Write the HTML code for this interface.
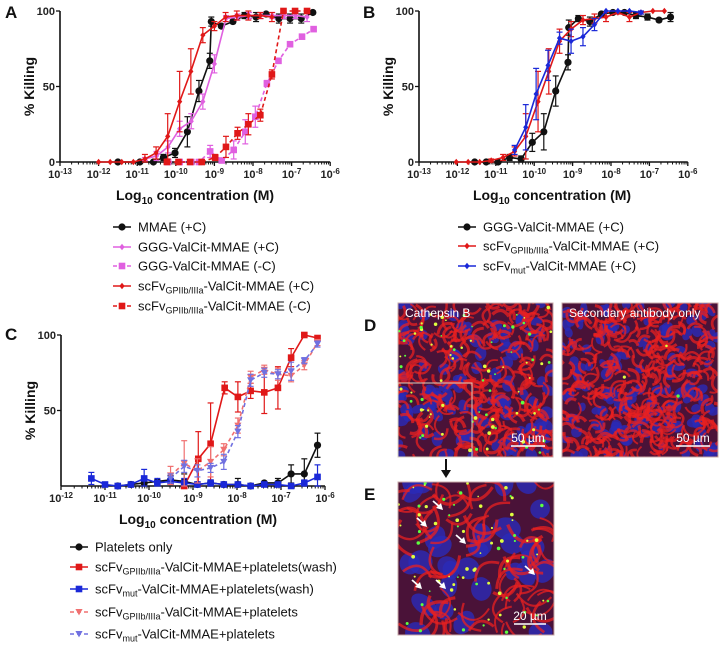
<!DOCTYPE html>
<html><head><meta charset="utf-8">
<style>
html,body{margin:0;padding:0;background:#fff;}
svg{display:block;font-family:"Liberation Sans",Arial,sans-serif;}
.tk{font-size:11px;font-weight:bold;fill:#222;}
.ax{font-size:14px;font-weight:bold;fill:#111;}
.lg{font-size:13px;fill:#111;}
.pl{font-size:17px;font-weight:bold;fill:#111;}
</style></head>
<body>
<svg id="fig" width="720" height="645" viewBox="0 0 720 645" xmlns="http://www.w3.org/2000/svg">
<defs>
<clipPath id="cD1"><rect x="398" y="303" width="155" height="154"/></clipPath>
<clipPath id="cD2"><rect x="562" y="303" width="156" height="154"/></clipPath>
<clipPath id="cE"><rect x="398" y="482" width="156" height="153"/></clipPath>
</defs>
<g id="gA"></g>
<g id="gB"></g>
<g id="gC"></g>
<g id="gM"></g>
<text class="pl" x="5" y="18">A</text>
<text class="pl" x="363" y="18">B</text>
<text class="pl" x="5" y="340">C</text>
<text class="pl" x="364" y="331">D</text>
<text class="pl" x="364" y="500">E</text>
</svg>
<script>
// ---------- Panel A data (log10 M, % killing, error) ----------
const aMmaeX=[-11.5,-10.93,-10.58,-10.32,-10.02,-9.7,-9.4,-9.12,-9.08,-8.82,-8.52,-8.22,-7.92,-7.66,-7.33,-7.04,-6.75,-6.45];
const aMmaeY=[0,0,0,3,6,20,47,67,93,90,93,97,96,98,95,95,95,99];
const aMmaeE=[0,0,0,2,3,10,7,5,3,1,1,2,3,1,3,3,3,1];
const aGggPX=[-10.8,-10.5,-10.2,-9.9,-9.6,-9.3,-9.0,-8.7,-8.4,-8.1,-7.8,-7.5,-7.2,-6.9,-6.6];
const aGggPY=[2,4,10,22,27,40,65,95,96,97,97,97,97,97,96];
const aGggPE=[1,3,4,5,5,5,6,2,2,2,2,2,2,2,3];
const aGggMX=[-10.2,-9.9,-9.6,-9.4,-9.11,-8.81,-8.5,-8.2,-7.94,-7.64,-7.34,-7.04,-6.73,-6.43];
const aGggMY=[0,0,0,0,7,1,8,20,30,52,67,78,83,88];
const aGggME=[0,0,0,0,4,1,6,8,7,2,1,1,1,1];
const aScPX=[-12.0,-11.7,-11.4,-11.1,-10.8,-10.51,-10.21,-9.9,-9.61,-9.3,-9.0,-8.71,-8.42,-8.12,-7.81,-7.51];
const aScPY=[0,0,0,0,2,6,17,40,60,84,90,96,97,97,97,96];
const aScPE=[0,0,0,0,3,4,15,20,15,5,3,3,3,3,2,3];
const aScMX=[-10.23,-9.93,-9.63,-9.33,-8.98,-8.7,-8.4,-8.12,-7.81,-7.51,-7.21,-6.91,-6.6];
const aScMY=[0,0,0,0,3,10,19,25,31,58,100,100,100];
const aScME=[0,0,0,0,2,7,4,7,4,3,0,0,0];
// ---------- Panel B data ----------
const bGggX=[-11.55,-11.25,-10.94,-10.64,-10.34,-10.05,-9.75,-9.44,-9.12,-9.1,-8.85,-8.55,-8.25,-7.95,-7.65,-7.35,-7.05,-6.75,-6.45];
const bGggY=[0,0,0,3,2,13,20,47,66,89,95,93,98,99,99,97,96,94,96];
const bGggE=[0,0,1,2,2,6,12,10,5,5,2,3,1,1,1,2,2,1,3];
const bScX=[-12.03,-11.72,-11.42,-11.12,-10.81,-10.51,-10.22,-9.9,-9.62,-9.34,-9.04,-8.73,-8.43,-8.13,-7.82,-7.52,-7.22,-6.91,-6.61];
const bScY=[0,0,0,1,3,7,17,40,60,80,88,94,95,96,99,96,99,100,100];
const bScE=[0,0,0,1,2,3,15,20,15,8,5,3,3,3,1,3,1,0,0];
const bMutX=[-10.51,-10.22,-9.95,-9.64,-9.34,-9.04,-8.73,-8.43,-8.13,-7.82,-7.52,-7.22];
const bMutY=[8,23,45,64,82,80,83,91,100,100,100,99];
const bMutE=[3,15,17,10,4,8,6,4,0,0,0,1];
// ---------- Panel C data ----------
const cPltX=[-10.71,-10.41,-10.11,-9.81,-9.51,-9.2,-8.9,-8.6,-8.3,-7.98,-7.69,-7.38,-7.07,-6.77,-6.47,-6.17];
const cPltY=[0,1,2,3,4,3,1,2,1,1,0,2,2,8,8,27];
const cPltE=[0,1,1,1,3,5,1,2,1,4,1,1,3,6,10,8];
const cRedWX=[-9.2,-8.88,-8.6,-8.28,-7.98,-7.69,-7.38,-7.07,-6.77,-6.47,-6.17];
const cRedWY=[0,18,28,65,59,63,62,65,85,100,98];
const cRedWE=[0,18,27,4,10,5,14,14,6,0,1];
const cBluWX=[-11.31,-11.0,-10.71,-10.41,-10.11,-9.81,-9.51,-9.2,-8.9,-8.6,-8.3,-7.98,-7.69,-7.38,-7.07,-6.77,-6.47,-6.17];
const cBluWY=[5,1,0,1,5,2,3,2,1,2,1,1,0,1,1,0,2,6];
const cBluWE=[4,1,0,1,6,3,2,3,1,2,1,1,0,1,1,0,2,8];
const cRedPX=[-9.51,-9.2,-8.9,-8.6,-8.3,-7.98,-7.69,-7.38,-7.07,-6.77,-6.47,-6.17];
const cRedPY=[7,15,10,16,24,40,72,77,74,73,80,95];
const cRedPE=[6,15,8,10,4,5,4,3,4,4,3,2];
const cBluPX=[-9.51,-9.2,-8.9,-8.6,-8.3,-7.98,-7.69,-7.38,-7.07,-6.77,-6.47,-6.17];
const cBluPY=[5,13,10,12,16,36,70,75,74,76,83,94];
const cBluPE=[3,4,4,3,5,4,4,3,3,6,2,2];
// tick labels
const abTicks=[-13,-12,-11,-10,-9,-8,-7,-6];
const cTicks=[-12,-11,-10,-9,-8,-7,-6];
const yTicksAB=[0,50,100];
const yTicksC=[50,100];

const NS="http://www.w3.org/2000/svg";
function mk(tag,at,par){const e=document.createElementNS(NS,tag);for(const k in at)e.setAttribute(k,at[k]);par.appendChild(e);return e;}

function marker(g,shape,cx,cy,color){
  let m;
  if(shape==='circle'){m=mk('circle',{cx:cx,cy:cy,r:3.6,fill:color},g);}
  else if(shape==='square'){m=mk('rect',{x:cx-3.3,y:cy-3.3,width:6.6,height:6.6,fill:color},g);}
  else if(shape==='diamond'){m=mk('path',{d:`M${cx} ${cy-3.2}L${cx+2.6} ${cy}L${cx} ${cy+3.2}L${cx-2.6} ${cy}Z`,fill:color},g);}
  else {m=mk('path',{d:`M${cx-3.6} ${cy-3}L${cx+3.6} ${cy-3}L${cx} ${cy+3.4}Z`,fill:color},g);}
  return m;
}

function panel(g,cfg){
  const sx=v=>cfg.x0+(v-cfg.lmin)*cfg.dec;
  const sy=v=>cfg.y0-(v/100)*(cfg.y0-cfg.y100);
  const xa=mk('line',{x1:cfg.x0,y1:cfg.y0,x2:sx(cfg.lmax),y2:cfg.y0,stroke:'#111','stroke-width':1.6},g);
  
  const ya=mk('line',{x1:cfg.x0,y1:cfg.y0,x2:cfg.x0,y2:cfg.y100,stroke:'#111','stroke-width':1.6},g);
  
  for(let d=cfg.lmin;d<=cfg.lmax;d++){
    mk('line',{x1:sx(d),y1:cfg.y0,x2:sx(d),y2:cfg.y0+4,stroke:'#111','stroke-width':1.3},g);
    if(d<cfg.lmax)for(let k=2;k<10;k++){const xx=sx(d+Math.log10(k));mk('line',{x1:xx,y1:cfg.y0,x2:xx,y2:cfg.y0+2.5,stroke:'#111','stroke-width':1},g);}
  }
  cfg.xt.forEach(d=>{
    const t=mk('text',{x:sx(d),y:cfg.y0+16,'text-anchor':'middle',class:'tk'},g);
    
    t.appendChild(document.createTextNode('10'));
    const s=mk('tspan',{dy:-4,'font-size':8},t);s.textContent=String(d);
  });
  cfg.yt.forEach(v=>{
    mk('line',{x1:cfg.x0-4,y1:sy(v),x2:cfg.x0,y2:sy(v),stroke:'#111','stroke-width':1.3},g);
    const t=mk('text',{x:cfg.x0-5,y:sy(v)+4,'text-anchor':'end',class:'tk'},g);
    
    t.textContent=v;
  });
  const yl=mk('text',{x:0,y:0,transform:`translate(${cfg.x0-26},${(cfg.y0+cfg.y100)/2}) rotate(-90)`,'text-anchor':'middle',class:'ax','font-size':15},g);
  
  yl.textContent='% Killing';
  const xl=mk('text',{x:cfg.xlx,y:cfg.y0+38,'text-anchor':'middle',class:'ax'},g);
  
  xl.appendChild(document.createTextNode('Log'));
  const sb=mk('tspan',{dy:4,'font-size':10},xl);sb.textContent='10';
  const rest=mk('tspan',{dy:-4},xl);rest.textContent=' concentration (M)';
  cfg.series.forEach(s=>{
    const sg=mk('g',{},g);
    
    const pts=s.x.map((v,i)=>sx(v)+','+sy(s.y[i])).join(' ');
    const pl=mk('polyline',{points:pts,fill:'none',stroke:s.c,'stroke-width':1.6,'stroke-dasharray':s.dash?'4,3':'none'},sg);
    
    s.x.forEach((v,i)=>{
      const e=s.e[i];
      if(e>0){
        const X=sx(v),Y1=sy(Math.min(100,s.y[i]+e)),Y2=sy(Math.max(0,s.y[i]-e));
        mk('line',{x1:X,y1:Y1,x2:X,y2:Y2,stroke:s.c,'stroke-width':1.2},sg);
        mk('line',{x1:X-3,y1:Y1,x2:X+3,y2:Y1,stroke:s.c,'stroke-width':1.2},sg);
        mk('line',{x1:X-3,y1:Y2,x2:X+3,y2:Y2,stroke:s.c,'stroke-width':1.2},sg);
      }
      const m=marker(sg,s.m,sx(v),sy(s.y[i]),s.c);
      
    });
  });
  cfg.series.forEach((s,i)=>{
    const li=s.leg;const y=cfg.lgY[i];
    const lg=mk('g',{},g);
    
    mk('line',{x1:cfg.lgX,y1:y,x2:cfg.lgX+18,y2:y,stroke:s.c,'stroke-width':1.6,'stroke-dasharray':s.dash?'4,3':'none'},lg);
    marker(lg,s.m,cfg.lgX+9,y,s.c);
    const t=mk('text',{x:cfg.lgX+25,y:y+4.5,class:'lg'},lg);
    t.appendChild(document.createTextNode(li[0]));
    if(li.length>1){const a=mk('tspan',{dy:3,'font-size':9},t);a.textContent=li[1];
      const b=mk('tspan',{dy:-3},t);b.textContent=li[2];}
  });
}

panel(document.getElementById('gA'),{x0:60,y0:162,y100:11,lmin:-13,lmax:-6,dec:38.6,xt:abTicks,yt:yTicksAB,xlx:195,
  lgX:113,lgY:[227,247,266,286,306],
  series:[
   {name:'series-mmae-plus-c',x:aMmaeX,y:aMmaeY,e:aMmaeE,c:'#111',m:'circle',leg:['MMAE (+C)']},
   {name:'series-ggg-plus-c',x:aGggPX,y:aGggPY,e:aGggPE,c:'#e060e0',m:'diamond',leg:['GGG-ValCit-MMAE (+C)']},
   {name:'series-ggg-minus-c',x:aGggMX,y:aGggMY,e:aGggME,c:'#e060e0',m:'square',dash:1,leg:['GGG-ValCit-MMAE (-C)']},
   {name:'series-scfv-plus-c',x:aScPX,y:aScPY,e:aScPE,c:'#e01818',m:'diamond',leg:['scFv','GPIIb/IIIa','-ValCit-MMAE (+C)']},
   {name:'series-scfv-minus-c',x:aScMX,y:aScMY,e:aScME,c:'#e01818',m:'square',dash:1,leg:['scFv','GPIIb/IIIa','-ValCit-MMAE (-C)']}
  ]});
panel(document.getElementById('gB'),{x0:419,y0:162,y100:11,lmin:-13,lmax:-6,dec:38.4,xt:abTicks,yt:yTicksAB,xlx:552,
  lgX:458,lgY:[227,246,266],
  series:[
   {name:'series-ggg-plus-c',x:bGggX,y:bGggY,e:bGggE,c:'#111',m:'circle',leg:['GGG-ValCit-MMAE (+C)']},
   {name:'series-scfv-gpiib-plus-c',x:bScX,y:bScY,e:bScE,c:'#e01818',m:'diamond',leg:['scFv','GPIIb/IIIa','-ValCit-MMAE (+C)']},
   {name:'series-scfv-mut-plus-c',x:bMutX,y:bMutY,e:bMutE,c:'#1a28d8',m:'diamond',leg:['scFv','mut','-ValCit-MMAE (+C)']}
  ]});
panel(document.getElementById('gC'),{x0:61,y0:486,y100:335,lmin:-12,lmax:-6,dec:44,xt:cTicks,yt:yTicksC,xlx:198,
  lgX:70,lgY:[547,567,589,612,634],
  series:[
   {name:'series-platelets-only',x:cPltX,y:cPltY,e:cPltE,c:'#111',m:'circle',leg:['Platelets only']},
   {name:'series-scfv-gpiib-wash',x:cRedWX,y:cRedWY,e:cRedWE,c:'#e01818',m:'square',leg:['scFv','GPIIb/IIIa','-ValCit-MMAE+platelets(wash)']},
   {name:'series-scfv-mut-wash',x:cBluWX,y:cBluWY,e:cBluWE,c:'#1a28d8',m:'square',leg:['scFv','mut','-ValCit-MMAE+platelets(wash)']},
   {name:'series-scfv-gpiib-platelets',x:cRedPX,y:cRedPY,e:cRedPE,c:'#f07070',m:'tri',dash:1,leg:['scFv','GPIIb/IIIa','-ValCit-MMAE+platelets']},
   {name:'series-scfv-mut-platelets',x:cBluPX,y:cBluPY,e:cBluPE,c:'#7070e0',m:'tri',dash:1,leg:['scFv','mut','-ValCit-MMAE+platelets']}
  ]});

// ---------- Microscopy textures (decorative) ----------
let seed=7;function rnd(){seed=(seed*16807)%2147483647;return seed/2147483647;}
const gM=document.getElementById('gM');
function micro(name,x,y,w,h,clip,cell,green,label,scale){
  const g=mk('g',{'clip-path':'url(#'+clip+')'},gM);
  
  mk('rect',{x:x,y:y,width:w,height:h,fill:'#4a1238'},g);
  const n=Math.round(w*h/(cell*cell));
  for(let i=0;i<n*1.1;i++){
    const cx=x+rnd()*w,cy=y+rnd()*h;
    mk('ellipse',{cx:cx,cy:cy,rx:cell*(0.3+rnd()*0.2),ry:cell*(0.25+rnd()*0.15),fill:'#2a2ab8','fill-opacity':0.8,transform:`rotate(${rnd()*180} ${cx} ${cy})`},g);
  }
  for(let i=0;i<n*3;i++){
    const cx=x+rnd()*w,cy=y+rnd()*h,r=cell*(0.35+rnd()*0.3);
    mk('path',{d:`M${cx-r} ${cy}Q${cx} ${cy-r*1.2} ${cx+r} ${cy}`,fill:'none',stroke:'#e82020','stroke-width':1.8+rnd()*1.6,'stroke-opacity':0.75,transform:`rotate(${rnd()*360} ${cx} ${cy})`},g);
  }
  for(let i=0;i<green;i++){
    mk('circle',{cx:x+rnd()*w,cy:y+rnd()*h,r:0.8+rnd()*1.1,fill:rnd()>0.5?'#5cff40':'#e0ff40'},g);
  }
  mk('rect',{x:x,y:y,width:w,height:h,fill:'none',stroke:'#c8a8a8','stroke-width':1},gM);
  if(label){const t=mk('text',{x:x+7,y:y+14,'font-size':12,fill:'#fff'},gM);
    t.textContent=label;}
  const sbw=scale[0];
  mk('line',{x1:x+w-8-sbw,y1:y+h-11,x2:x+w-8,y2:y+h-11,stroke:'#fff','stroke-width':1.5},gM);
  const st=mk('text',{x:x+w-8-sbw/2,y:y+h-15,'font-size':12,fill:'#fff','text-anchor':'middle'},gM);
  st.textContent=scale[1];
}
micro('cathepsin-b-image',398,303,155,154,'cD1',16,80,'Cathepsin B',[34,'50 µm']);
const inset=mk('rect',{x:398,y:383,width:74,height:74,fill:'none',stroke:'#d8d0c0','stroke-width':1},gM);

micro('secondary-antibody-image',562,303,156,154,'cD2',14,3,'Secondary antibody only',[34,'50 µm']);
micro('magnified-image',398,482,156,153,'cE',30,70,'',[32,'20 µm']);
mk('line',{x1:446,y1:459,x2:446,y2:472,stroke:'#111','stroke-width':2},gM);
mk('path',{d:'M441 470L451 470L446 478Z',fill:'#111'},gM);
[[441,508],[425,525],[464,542],[533,573],[420,587],[444,587]].forEach(p=>{
  const a=mk('g',{},gM);
  mk('line',{x1:p[0]-8,y1:p[1]-7,x2:p[0],y2:p[1],stroke:'#fff','stroke-width':1.8},a);
  mk('path',{d:`M${p[0]+2} ${p[1]+2}L${p[0]-5} ${p[1]}L${p[0]} ${p[1]-5}Z`,fill:'#fff'},a);
});
</script>
</body></html>
